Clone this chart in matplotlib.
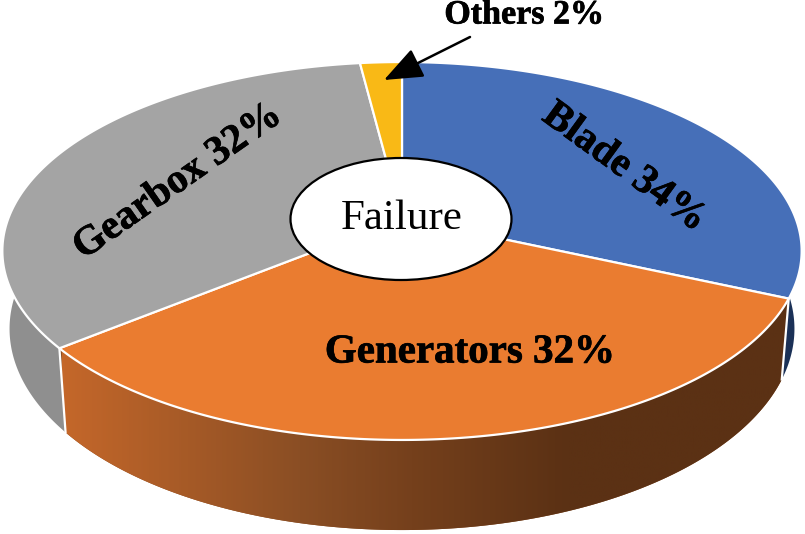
import numpy as np
import matplotlib.pyplot as plt
import matplotlib.patheffects as pe
from matplotlib.colors import LinearSegmentedColormap
from matplotlib.patches import Ellipse, Polygon

# slice sizes as they look in the picture, printed labels are below
names = ["Blade", "Generators", "Gearbox", "Others"]
drawn_shares = [31.7, 32.4, 33.9, 2.0]
printed_pcts = [34, 32, 32, 2]
top_colors = ["#466fb8", "#ea7c30", "#a4a4a4", "#f9b916"]
wall_colors = ["#1b3157", "#8c4f24", "#8f8f8f", "#f9b916"]

W, H = 805, 534
CX, CY = 402, 218        # where the slices meet on the page
K = 0.1746               # perspective strength
AX, AY = 393.5, 183.2    # scale of the circle


def project(angle):
    # angle in degrees, clockwise from the top of the pie
    t = np.radians(angle)
    u, v = np.sin(t), np.cos(t)
    w = 1 + K*v
    return CX + AX*u/w, CY - AY*v/w


def lower_rim(x, y):
    # same rim, dropped by the thickness of the pie
    return CX + (x - CX)*0.982, y + 81 + 0.065*(y - 300)


def wedge_points(a0, a1):
    x, y = project(np.linspace(a0, a1, 200))
    return np.column_stack([np.r_[CX, x], np.r_[CY, y]])


def wall_points(a0, a1):
    x, y = project(np.linspace(a0, a1, 200))
    xl, yl = lower_rim(x, y)
    return np.column_stack([np.r_[x, xl[::-1]], np.r_[y, yl[::-1]]])


fig = plt.figure(figsize=(W/100, H/100), dpi=100)
ax = fig.add_axes([0, 0, 1, 1])

edges = np.r_[0, np.cumsum(drawn_shares)]*3.6

# WALLS
for i in range(len(names)):
    wall = Polygon(wall_points(edges[i], edges[i+1]), fc=wall_colors[i],
                   ec="none", zorder=1)
    ax.add_patch(wall)
    if names[i] == "Generators":
        # dark to the right, lighter to the left
        cmap = LinearSegmentedColormap.from_list(
            "wall", [(0, "#c4672a"), (0.32, "#8a4e24"), (0.47, "#75401c"),
                     (0.68, "#5b3114"), (1, "#5b3114")])
        grad = np.linspace(0, 1, 400).reshape(1, -1)
        img = ax.imshow(grad, cmap=cmap, extent=[62, 805, 534, 250],
                        aspect="auto", zorder=1.5)
        img.set_clip_path(wall)

# white seams between the walls
for a in edges[1:3]:
    x, y = project(a)
    xl, yl = lower_rim(x, y)
    ax.plot([x, xl], [y, yl], color="white", lw=1.6, zorder=2)

# TOP FACE
for i in range(len(names)):
    ax.add_patch(Polygon(wedge_points(edges[i], edges[i+1]), fc=top_colors[i],
                         ec="white", lw=1.6, joinstyle="round", zorder=3))

ax.add_patch(Ellipse((401, 219), 221, 122, fc="white", ec="black", lw=1.6,
                     zorder=4))

# TEXT
serif = "Liberation Serif"
heavy = [pe.withStroke(linewidth=0.5, foreground="black")]
ax.text(402, 219, "Failure", family=serif, fontsize=31, ha="center",
        va="center", zorder=5)

label_spots = [(624, 168, -36), (470, 353, 0), (178, 182, 35)]
for i in range(3):
    x, y, rot = label_spots[i]
    ax.text(x, y, f"{names[i]} {printed_pcts[i]}%", family=serif,
            weight="bold", fontsize=29.5, ha="center", va="center",
            rotation=rot, rotation_mode="anchor", zorder=5, path_effects=heavy)

ax.text(524, 15, f"{names[3]} {printed_pcts[3]}%", family=serif, weight="bold",
        fontsize=24.5, ha="center", va="center", zorder=6, path_effects=heavy)
ax.annotate("", xy=(384, 80), xytext=(470, 37), zorder=6,
            arrowprops=dict(arrowstyle="-|>,head_width=0.4,head_length=1.0",
                            color="black", lw=1.8, shrinkA=0, shrinkB=0,
                            mutation_scale=24))

ax.set_xlim(0, W)
ax.set_ylim(H, 0)
ax.axis("off")
fig.savefig("out.png", dpi=100)
